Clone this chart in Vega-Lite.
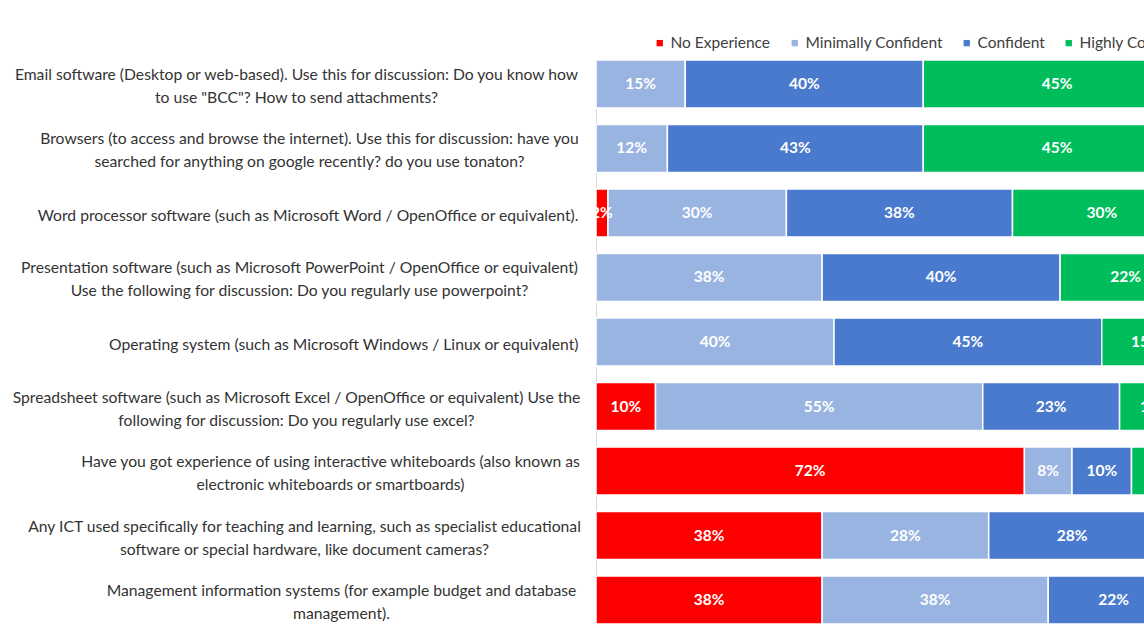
{
  "$schema": "https://vega.github.io/schema/vega-lite/v6.json",
  "autosize": {"type": "none"},
  "padding": {"left": 596, "top": 60, "right": 0, "bottom": 4},
  "width": 548,
  "height": 564,
  "background": "#ffffff",
  "config": {
    "view": {"stroke": null},
    "font": "Lato, sans-serif"
  },
  "data": {
    "values": [
      {"skill": "Email software (Desktop or web-based). Use this for discussion:  Do you know how|to use \"BCC\"?  How to send attachments?", "level": 2, "response": "Minimally Confident", "share": 0.15},
      {"skill": "Email software (Desktop or web-based). Use this for discussion:  Do you know how|to use \"BCC\"?  How to send attachments?", "level": 3, "response": "Confident", "share": 0.40},
      {"skill": "Email software (Desktop or web-based). Use this for discussion:  Do you know how|to use \"BCC\"?  How to send attachments?", "level": 4, "response": "Highly Confident", "share": 0.45},
      {"skill": "Browsers (to access and browse the internet). Use this for discussion: have you|searched for anything on google recently?  do you use tonaton?", "level": 2, "response": "Minimally Confident", "share": 0.12},
      {"skill": "Browsers (to access and browse the internet). Use this for discussion: have you|searched for anything on google recently?  do you use tonaton?", "level": 3, "response": "Confident", "share": 0.43},
      {"skill": "Browsers (to access and browse the internet). Use this for discussion: have you|searched for anything on google recently?  do you use tonaton?", "level": 4, "response": "Highly Confident", "share": 0.45},
      {"skill": "Word processor software (such as Microsoft Word / OpenOffice or equivalent).", "level": 1, "response": "No Experience", "share": 0.02},
      {"skill": "Word processor software (such as Microsoft Word / OpenOffice or equivalent).", "level": 2, "response": "Minimally Confident", "share": 0.30},
      {"skill": "Word processor software (such as Microsoft Word / OpenOffice or equivalent).", "level": 3, "response": "Confident", "share": 0.38},
      {"skill": "Word processor software (such as Microsoft Word / OpenOffice or equivalent).", "level": 4, "response": "Highly Confident", "share": 0.30},
      {"skill": "Presentation software  (such as Microsoft PowerPoint / OpenOffice or equivalent)|Use the following for discussion: Do you regularly use powerpoint?", "level": 2, "response": "Minimally Confident", "share": 0.38},
      {"skill": "Presentation software  (such as Microsoft PowerPoint / OpenOffice or equivalent)|Use the following for discussion: Do you regularly use powerpoint?", "level": 3, "response": "Confident", "share": 0.40},
      {"skill": "Presentation software  (such as Microsoft PowerPoint / OpenOffice or equivalent)|Use the following for discussion: Do you regularly use powerpoint?", "level": 4, "response": "Highly Confident", "share": 0.22},
      {"skill": "Operating system (such as Microsoft Windows / Linux or equivalent)", "level": 2, "response": "Minimally Confident", "share": 0.40},
      {"skill": "Operating system (such as Microsoft Windows / Linux or equivalent)", "level": 3, "response": "Confident", "share": 0.45},
      {"skill": "Operating system (such as Microsoft Windows / Linux or equivalent)", "level": 4, "response": "Highly Confident", "share": 0.15},
      {"skill": "Spreadsheet software (such as Microsoft Excel / OpenOffice or equivalent) Use the|following for discussion: Do you regularly use excel?", "level": 1, "response": "No Experience", "share": 0.10},
      {"skill": "Spreadsheet software (such as Microsoft Excel / OpenOffice or equivalent) Use the|following for discussion: Do you regularly use excel?", "level": 2, "response": "Minimally Confident", "share": 0.55},
      {"skill": "Spreadsheet software (such as Microsoft Excel / OpenOffice or equivalent) Use the|following for discussion: Do you regularly use excel?", "level": 3, "response": "Confident", "share": 0.23},
      {"skill": "Spreadsheet software (such as Microsoft Excel / OpenOffice or equivalent) Use the|following for discussion: Do you regularly use excel?", "level": 4, "response": "Highly Confident", "share": 0.12},
      {"skill": "Have you got experience of using interactive whiteboards (also known as|electronic whiteboards or smartboards)", "level": 1, "response": "No Experience", "share": 0.72},
      {"skill": "Have you got experience of using interactive whiteboards (also known as|electronic whiteboards or smartboards)", "level": 2, "response": "Minimally Confident", "share": 0.08},
      {"skill": "Have you got experience of using interactive whiteboards (also known as|electronic whiteboards or smartboards)", "level": 3, "response": "Confident", "share": 0.10},
      {"skill": "Have you got experience of using interactive whiteboards (also known as|electronic whiteboards or smartboards)", "level": 4, "response": "Highly Confident", "share": 0.10},
      {"skill": "Any ICT used specifically for teaching and learning, such as specialist educational|software or special hardware, like document cameras?", "level": 1, "response": "No Experience", "share": 0.38},
      {"skill": "Any ICT used specifically for teaching and learning, such as specialist educational|software or special hardware, like document cameras?", "level": 2, "response": "Minimally Confident", "share": 0.28},
      {"skill": "Any ICT used specifically for teaching and learning, such as specialist educational|software or special hardware, like document cameras?", "level": 3, "response": "Confident", "share": 0.28},
      {"skill": "Any ICT used specifically for teaching and learning, such as specialist educational|software or special hardware, like document cameras?", "level": 4, "response": "Highly Confident", "share": 0.06},
      {"skill": "Management information systems (for example budget and database|management).", "level": 1, "response": "No Experience", "share": 0.38},
      {"skill": "Management information systems (for example budget and database|management).", "level": 2, "response": "Minimally Confident", "share": 0.38},
      {"skill": "Management information systems (for example budget and database|management).", "level": 3, "response": "Confident", "share": 0.22},
      {"skill": "Management information systems (for example budget and database|management).", "level": 4, "response": "Highly Confident", "share": 0.02}
    ]
  },
  "transform": [
    {"stack": "share", "groupby": ["skill"], "sort": [{"field": "level"}], "as": ["s0", "s1"]},
    {"calculate": "(datum.s0 + datum.s1) / 2", "as": "mid"}
  ],
  "encoding": {
    "y": {
      "field": "skill",
      "type": "nominal",
      "sort": null,
      "scale": {"paddingInner": 0.2565, "paddingOuter": 0},
      "axis": {
        "title": null,
        "domain": true,
        "domainColor": "#d9d9d9",
        "domainWidth": 1,
        "ticks": false,
        "labelExpr": "split(datum.label, '|')",
        "labelAlign": {"condition": {"test": "indexof(datum.value, '|') >= 0", "value": "center"}, "value": "right"},
        "labelPadding": {"condition": [
          {"test": "indexof(datum.value, 'Email') == 0", "value": 300},
          {"test": "indexof(datum.value, 'Browsers') == 0", "value": 287},
          {"test": "indexof(datum.value, 'Presentation') == 0", "value": 297},
          {"test": "indexof(datum.value, 'Spreadsheet') == 0", "value": 300},
          {"test": "indexof(datum.value, 'Have you') == 0", "value": 266},
          {"test": "indexof(datum.value, 'Any ICT') == 0", "value": 292},
          {"test": "indexof(datum.value, 'Management') == 0", "value": 255}
        ], "value": 18},
        "labelOffset": {"condition": {"test": "indexof(datum.value, '|') >= 0", "value": -9}, "value": 3},
        "labelLimit": 0,
        "labelFontSize": 15.7,
        "labelLineHeight": 23,
        "labelColor": "#333333",
        "labelFont": "Lato, sans-serif"
      }
    }
  },
  "layer": [
    {
      "mark": {"type": "bar", "clip": true, "stroke": "#ffffff", "strokeWidth": 1.5},
      "encoding": {
        "x": {"field": "s0", "type": "quantitative", "scale": {"domain": [0, 0.921], "nice": false, "zero": true}, "axis": null},
        "x2": {"field": "s1"},
        "color": {
          "field": "response",
          "type": "nominal",
          "scale": {
            "domain": ["No Experience", "Minimally Confident", "Confident", "Highly Confident"],
            "range": ["#ff0000", "#9ab4e2", "#4a7acd", "#00bd5c"]
          },
          "legend": {
            "title": null,
            "orient": "none",
            "direction": "horizontal",
            "legendX": 56,
            "legendY": -25,
            "symbolType": "square",
            "symbolSize": 40,
            "symbolStrokeWidth": 0,
            "labelFontSize": 15.5,
            "labelColor": "#404040",
            "labelOffset": 3,
            "columnPadding": 16,
            "labelFont": "Lato, sans-serif"
          }
        }
      }
    },
    {
      "mark": {"type": "text", "clip": true, "color": "#ffffff", "fontSize": 15.5, "fontWeight": "bold", "baseline": "middle", "align": "center", "font": "Lato, sans-serif"},
      "encoding": {
        "x": {"field": "mid", "type": "quantitative"},
        "text": {"field": "share", "type": "quantitative", "format": ".0%"}
      }
    }
  ]
}
